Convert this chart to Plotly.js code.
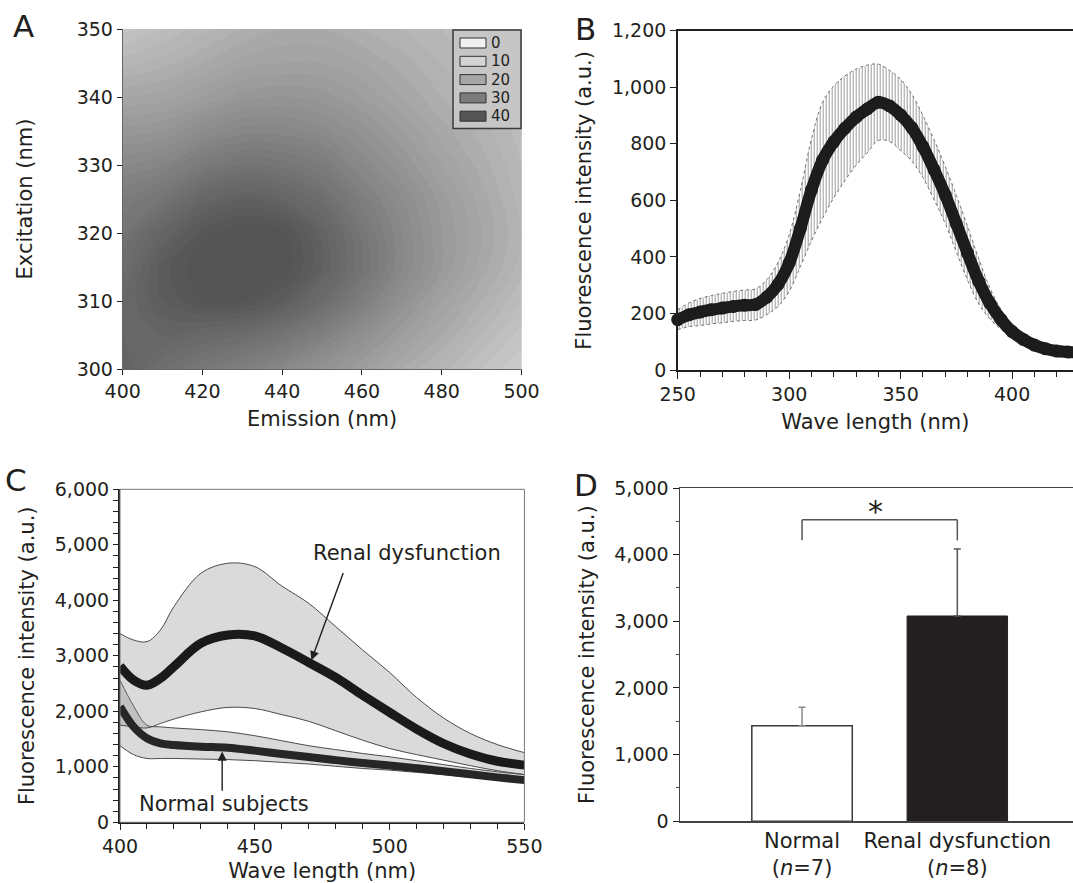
<!DOCTYPE html>
<html><head><meta charset="utf-8">
<script src="https://cdn.plot.ly/plotly-3.0.1.min.js"></script>
<style>html,body{margin:0;padding:0;background:#fff;} #chart{width:1073px;height:883px;}</style>
</head><body><div id="chart"></div>
<script>
// ---------- Panel A : excitation-emission map ----------
const A_emission = [400,410,420,430,440,450,460,470,480,490,500];
const A_excitation = [300,305,310,315,320,325,330,335,340,345,350];
const A_intensity = [
  [37, 33, 31, 29, 27, 24.5, 22, 19, 16.5, 14, 12],
  [36, 36, 35, 34, 32, 29, 25.5, 22, 19, 16, 13.5],
  [35, 38, 40, 40, 38, 34, 29.5, 25, 21, 18, 15],
  [33.5, 38.5, 41, 41.5, 41, 37, 32, 27, 23, 19.5, 16.5],
  [32, 36, 39.5, 41, 40.5, 36.5, 31.5, 27, 23, 20, 17],
  [30, 32, 35.5, 37, 36, 33.5, 29.5, 26, 22.5, 19.5, 16.5],
  [27, 28, 30.5, 32, 31.5, 30, 27, 24, 21, 18.5, 16],
  [23.5, 24, 26, 27.5, 27.5, 26.5, 24.5, 22, 19.5, 17.5, 15.5],
  [20, 20.5, 22, 23.5, 24, 23.5, 22, 20, 18, 16.5, 15],
  [16.5, 17.5, 19, 20.5, 21, 21, 20, 18.5, 17, 15.5, 14.5],
  [13.5, 15, 16.5, 18, 19, 19, 18, 17, 16, 15, 14]
];
const A_legendLevels = [0, 10, 20, 30, 40];

// ---------- Panel B : excitation spectrum ----------
const B_wavelength = [250,255,260,265,270,275,280,285,290,295,300,305,310,315,320,325,330,335,340,345,350,355,360,365,370,375,380,385,390,395,400,405,410,415,420,425,430];
const B_mean = [178,195,205,213,219,225,229,232,258,303,378,500,637,742,807,855,894,923,947,934,902,857,790,708,619,517,413,314,236,179,136,108,88,75,67,64,62];
const B_sd   = [35,42,48,50,52,53,54,55,62,78,100,135,180,205,198,185,170,155,135,126,126,118,110,106,101,100,95,80,55,35,25,18,14,10,8,6,6];

// ---------- Panel C : emission spectra ----------
const C_wavelength   = [400,405,410,415,420,430,440,450,460,470,480,490,500,510,520,530,540,550];
const C_renalMean    = [2817,2565,2470,2595,2805,3225,3375,3357,3140,2880,2610,2290,1980,1680,1420,1230,1100,1030];
const C_renalUpper   = [3400,3285,3255,3465,3886,4486,4667,4607,4258,3946,3526,3105,2700,2250,1880,1600,1400,1255];
const C_renalLower   = [1750,1720,1700,1780,1860,1990,2070,2050,1940,1820,1650,1480,1330,1220,1120,1020,930,860];
const C_normalMean   = [2084,1724,1514,1423,1393,1363,1345,1291,1231,1175,1120,1070,1025,975,920,865,810,760];
const C_normalUpper  = [2560,2100,1750,1720,1700,1670,1630,1560,1470,1380,1310,1240,1180,1110,1040,970,910,860];
const C_normalLower  = [1380,1220,1150,1150,1150,1140,1130,1110,1080,1050,1010,970,940,900,860,810,760,720];

// ---------- Panel D : group means ----------
const D_groups = ['Normal<br>(<i>n</i>=7)', 'Renal dysfunction<br>(<i>n</i>=8)'];
const D_means = [1434, 3080];
const D_err   = [276, 1005];
const D_sigBracket = {low: 4215, high: 4524, label: '*'};

// ---------- styling ----------
const FONT = 'DejaVu Sans, Verdana, sans-serif';
const INK = '#231f20';
const W = 1073, H = 883;
const px = v => v / W;          // paper fraction from pixel x
const py = v => 1 - v / H;      // paper fraction from pixel y
const greyScale = [[0,'#f0f0f0'],[0.25,'#d4d4d4'],[0.5,'#a6a6a6'],[0.75,'#7c7c7c'],[1,'#555555']];
const TICK = {family: FONT, size: 19, color: INK};
const TITLE = {family: FONT, size: 21, color: INK};

const traces = [];

// A
traces.push({
  type: 'contour', x: A_emission, y: A_excitation, z: A_intensity,
  xaxis: 'x', yaxis: 'y', colorscale: greyScale, zmin: 0, zmax: 40,
  autocontour: false, contours: {start: 0, end: 42, size: 1, coloring: 'fill', showlines: false},
  line: {width: 0, smoothing: 1}, showscale: false, hoverinfo: 'skip'
});

// B
traces.push({x: B_wavelength, y: B_mean.map((m,i)=>m + B_sd[i]), xaxis:'x2', yaxis:'y2', mode:'lines',
  line:{color:'#707070', width:1, dash:'dot', shape:'spline'}, hoverinfo:'skip'});
traces.push({x: B_wavelength, y: B_mean.map((m,i)=>m - B_sd[i]), xaxis:'x2', yaxis:'y2', mode:'lines',
  line:{color:'#707070', width:1, dash:'dot', shape:'spline'}, fill:'tonexty', fillcolor:'rgba(0,0,0,0)',
  fillpattern:{shape:'|', size:3, solidity:0.35, fgcolor:'#9c9c9c', bgcolor:'#ffffff'}, hoverinfo:'skip'});
traces.push({x: B_wavelength, y: B_mean, xaxis:'x2', yaxis:'y2', mode:'lines+markers', cliponaxis:false,
  line:{color:'#1c1c1c', width:12, shape:'spline'}, marker:{size:13, color:'#1c1c1c'}, hoverinfo:'skip'});

// C bands
const edge = {color:'#4a4a4a', width:1, shape:'spline'};
traces.push({x: C_wavelength, y: C_normalUpper, xaxis:'x3', yaxis:'y3', mode:'lines', line: edge, hoverinfo:'skip'});
traces.push({x: C_wavelength, y: C_normalLower, xaxis:'x3', yaxis:'y3', mode:'lines', line: edge,
  fill:'tonexty', fillcolor:'rgba(140,140,140,0.32)', hoverinfo:'skip'});
traces.push({x: C_wavelength, y: C_renalUpper, xaxis:'x3', yaxis:'y3', mode:'lines', line: edge, hoverinfo:'skip'});
traces.push({x: C_wavelength, y: C_renalLower, xaxis:'x3', yaxis:'y3', mode:'lines', line: edge,
  fill:'tonexty', fillcolor:'rgba(140,140,140,0.32)', hoverinfo:'skip'});
traces.push({x: C_wavelength, y: C_normalMean, xaxis:'x3', yaxis:'y3', mode:'lines',
  line:{color:'#262626', width:8, shape:'spline'}, hoverinfo:'skip'});
traces.push({x: C_wavelength, y: C_renalMean, xaxis:'x3', yaxis:'y3', mode:'lines',
  line:{color:'#1a1a1a', width:9, shape:'spline'}, hoverinfo:'skip'});

// D bars
traces.push({type:'bar', x:[D_groups[0]], y:[D_means[0]], xaxis:'x4', yaxis:'y4', width:0.647,
  marker:{color:'#ffffff', line:{color:'#3a3a3a', width:1.5}},
  error_y:{type:'data', symmetric:false, array:[D_err[0]], arrayminus:[0], color:'#8a8a8a', thickness:1.5, width:3.5},
  hoverinfo:'skip'});
traces.push({type:'bar', x:[D_groups[1]], y:[D_means[1]], xaxis:'x4', yaxis:'y4', width:0.647,
  marker:{color:INK, line:{color:INK, width:1}},
  error_y:{type:'data', symmetric:false, array:[D_err[1]], arrayminus:[0], color:'#555555', thickness:1.5, width:3.5},
  hoverinfo:'skip'});

// legend (panel A)
const shapes = [];
const annotations = [];
shapes.push({type:'rect', xref:'paper', yref:'paper', x0:px(453), x1:px(521), y0:py(128.5), y1:py(30),
  fillcolor:'#c6c6c6', line:{color:'#3a3a3a', width:1.5}});
A_legendLevels.forEach((lv, i) => {
  const c = 43 + i * 18.3;
  shapes.push({type:'rect', xref:'paper', yref:'paper', x0:px(460), x1:px(486), y0:py(c+5), y1:py(c-5),
    fillcolor: greyScale[i][1], line:{color:'#333333', width:1}});
  annotations.push({xref:'paper', yref:'paper', x:px(490), y:py(c), xanchor:'left', yanchor:'middle',
    text:String(lv), showarrow:false, borderpad:0, font:{family:FONT, size:15, color:INK}});
});

// C frame
shapes.push({type:'rect', xref:'x3 domain', yref:'y3 domain', x0:0, x1:1, y0:0, y1:1,
  line:{color:'#777777', width:1}});

// D significance bracket
shapes.push({type:'line', xref:'x4', yref:'y4', x0:0, x1:0, y0:D_sigBracket.low, y1:D_sigBracket.high, line:{color:'#555', width:1.5}});
shapes.push({type:'line', xref:'x4', yref:'y4', x0:0, x1:1, y0:D_sigBracket.high, y1:D_sigBracket.high, line:{color:'#555', width:1.5}});
shapes.push({type:'line', xref:'x4', yref:'y4', x0:1, x1:1, y0:D_sigBracket.low, y1:D_sigBracket.high, line:{color:'#555', width:1.5}});
annotations.push({xref:'x4', yref:'y4', x:0.47, y:D_sigBracket.high + 120, text:D_sigBracket.label,
  showarrow:false, yanchor:'middle', font:{family:FONT, size:30, color:INK}});

// C labels & arrows
annotations.push({xref:'x3', yref:'y3', x:506.6, y:4852, text:'Renal dysfunction', showarrow:false,
  font:{family:FONT, size:21, color:INK}});
annotations.push({xref:'x3', yref:'y3', x:471, y:2920, axref:'x3', ayref:'y3', ax:483, ay:4520, text:'',
  showarrow:true, arrowhead:2, arrowsize:1.3, arrowwidth:1.4, arrowcolor:INK, standoff:0});
annotations.push({xref:'x3', yref:'y3', x:438.6, y:330, text:'Normal subjects', showarrow:false,
  font:{family:FONT, size:21, color:INK}});
annotations.push({xref:'x3', yref:'y3', x:437.9, y:1275, axref:'x3', ayref:'y3', ax:437.9, ay:540, text:'',
  showarrow:true, arrowhead:2, arrowsize:1.3, arrowwidth:1.4, arrowcolor:INK, standoff:0});

// panel letters
[['A',23,26],['B',585,29],['C',16,480],['D',586,485]].forEach(([t,x,y]) => {
  annotations.push({xref:'paper', yref:'paper', x:px(x), y:py(y), text:t, showarrow:false,
    xanchor:'center', yanchor:'middle', font:{family:FONT, size:31, color:INK}});
});

function axisBase(extra){
  return Object.assign({showgrid:false, zeroline:false, tickfont:TICK, ticks:'outside', tickcolor:INK,
    showline:true, linecolor:INK, linewidth:1.5, automargin:false}, extra);
}

const layout = {
  width: W, height: H, margin:{l:0, r:0, t:0, b:0}, paper_bgcolor:'#fff', plot_bgcolor:'#fff',
  showlegend:false, barmode:'overlay', font:{family:FONT, color:INK, size:19},
  xaxis: axisBase({domain:[px(122.7), px(521.5)], range:[400,500], dtick:20, tick0:400, ticklen:5,
    linecolor:'#666', linewidth:1, anchor:'y', title:{text:'Emission (nm)', font:TITLE, standoff:10}}),
  yaxis: axisBase({domain:[py(369), py(29)], range:[300,350], dtick:10, tick0:300, ticklen:5,
    linecolor:'#666', linewidth:1, anchor:'x', title:{text:'Excitation (nm)', font:TITLE, standoff:38}}),
  xaxis2: axisBase({domain:[px(677.7), 1], range:[250,427.3], dtick:50, tick0:250, ticklen:7, mirror:true,
    minor:{dtick:10, ticks:'outside', ticklen:5, tickcolor:INK}, anchor:'y2',
    title:{text:'Wave length (nm)', font:TITLE, standoff:10}}),
  yaxis2: axisBase({domain:[py(370), py(30.7)], range:[0,1200], dtick:200, ticklen:6, tickformat:',d', anchor:'x2',
    title:{text:'Fluorescence intensity (a.u.)', font:TITLE, standoff:14}}),
  xaxis3: axisBase({domain:[px(120), px(524.4)], range:[400,550], dtick:50, tick0:400, ticklen:6,
    minor:{dtick:10, ticks:'outside', ticklen:5, tickcolor:INK}, anchor:'y3',
    title:{text:'Wave length (nm)', font:TITLE, standoff:8}}),
  yaxis3: axisBase({domain:[py(822.3), py(489.3)], range:[0,6000], dtick:1000, ticklen:5, linewidth:2, tickformat:',d',
    minor:{dtick:200, ticks:'outside', ticklen:5, tickcolor:INK}, anchor:'x3',
    title:{text:'Fluorescence intensity (a.u.)', font:TITLE, standoff:14}}),
  xaxis4: axisBase({domain:[px(680), 1], range:[-0.786, 1.745], ticks:'', type:'category', linecolor:'#444',
    mirror:true, anchor:'y4', tickfont:{family:FONT, size:21, color:INK}}),
  yaxis4: axisBase({domain:[py(821.3), py(488)], range:[0,5000], dtick:1000, ticklen:6, tickformat:',d', linecolor:'#444',
    minor:{dtick:500, ticks:'outside', ticklen:3, tickcolor:'#444'}, anchor:'x4',
    title:{text:'Fluorescence intensity (a.u.)', font:TITLE, standoff:14}}),
  shapes, annotations
};

Plotly.newPlot('chart', traces, layout, {staticPlot:true, displayModeBar:false});
</script>
</body></html>
